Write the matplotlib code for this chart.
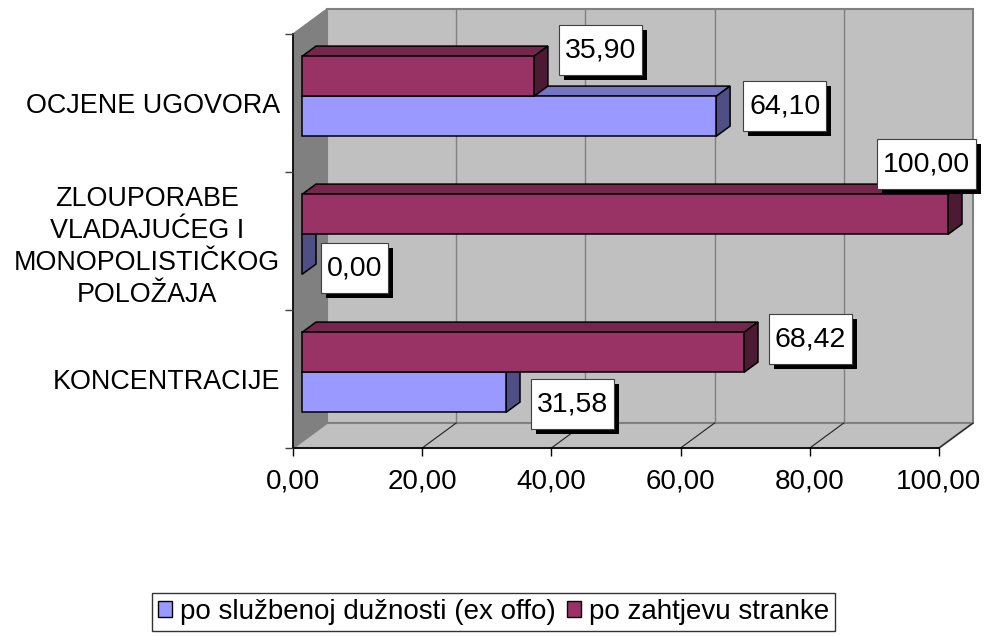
import numpy as np
import matplotlib
matplotlib.use('Agg')
import matplotlib.pyplot as plt
from matplotlib.patches import Polygon, Patch
from matplotlib.path import Path
import matplotlib.patheffects as pe

plt.rcParams['font.family'] = ['Liberation Sans', 'DejaVu Sans']

### DATA
categories = ['KONCENTRACIJE',
              'ZLOUPORABE\nVLADAJUĆEG I\nMONOPOLISTIČKOG\nPOLOŽAJA',
              'OCJENE UGOVORA']
ex_offo    = [31.58, 0.00, 64.10]
zahtjev    = [68.42, 100.00, 35.90]
series     = ['po službenoj dužnosti (ex offo)', 'po zahtjevu stranke']
x_ticks    = [0, 20, 40, 60, 80, 100]
x_labels   = ['0,00', '20,00', '40,00', '60,00', '80,00', '100,00']

### STYLE
front_col = ['#9999FF', '#993366']
top_col   = ['#7575C2', '#74264D']
side_col  = ['#4F4F85', '#4D1A33']
# label box left edge / centre offsets (px) from bar back-end centre
label_off = [[(11, 22), (5, 24), (13, 0)],      # ex offo
             [(11, -3), (-85, -40), (11, -16)]]  # zahtjev
FS = 20

fig = plt.figure(figsize=(9.87, 6.37), dpi=100)
W, H = 987, 637
ax = fig.add_axes([293 / W, 1 - 448 / H, 646 / W, 414 / H])
ax.set_xlim(0, 100)
ax.set_ylim(-0.5, 2.5)

# 3d depth in data units
px_x = 100 / 646.
px_y = 3 / 414.
DX = 34 * px_x
DY = 25 * px_y
f0, f1 = 9 / 34., 23 / 34.
bw = 40 / 138.

def poly(pts, fc, ec, lw, z):
    p = Polygon(pts, closed=True, facecolor=fc, edgecolor=ec, linewidth=lw,
                zorder=z, clip_on=False, joinstyle='miter')
    ax.add_patch(p)

# label box: more vertical padding than horizontal, like excel
def label_box(x0, y0, width, height, mutation_size):
    px, py = 6, 12
    x0, x1 = x0 - px, x0 + width + px
    y0, y1 = y0 - py, y0 + height + py
    return Path([(x0, y0), (x1, y0), (x1, y1), (x0, y1), (x0, y0)],
                closed=True)

# walls and floor
y0, y1 = -0.5, 2.5
poly([(DX, y0 + DY), (100 + DX, y0 + DY), (100 + DX, y1 + DY), (DX, y1 + DY)],
     '#C0C0C0', '#808080', 1.5, 0.5)
poly([(0, y0), (DX, y0 + DY), (DX, y1 + DY), (0, y1)],
     '#808080', '#808080', 1.0, 0.6)
poly([(0, y0), (100, y0), (100 + DX, y0 + DY), (DX, y0 + DY)],
     '#C0C0C0', '#808080', 1.5, 0.6)
for v in x_ticks[1:-1]:
    ax.plot([v + DX, v + DX], [y0 + DY, y1 + DY], color='#808080', lw=1,
            zorder=0.7, clip_on=False)
for v in x_ticks[1:]:
    ax.plot([v, v + DX], [y0, y0 + DY], color='#202020', lw=0.8,
            zorder=0.7, clip_on=False)

# bars
vals = [ex_offo, zahtjev]
for i, yc in enumerate(range(len(categories))):
    for s in range(2):
        v = vals[s][i]
        b0 = yc - bw if s == 0 else yc
        b1 = b0 + bw
        z = 2 + i * 0.1 + s * 0.05
        poly([(f0 * DX, b1 + f0 * DY), (v + f0 * DX, b1 + f0 * DY),
              (v + f1 * DX, b1 + f1 * DY), (f1 * DX, b1 + f1 * DY)],
             top_col[s], 'black', 1.1, z)
        poly([(v + f0 * DX, b0 + f0 * DY), (v + f1 * DX, b0 + f1 * DY),
              (v + f1 * DX, b1 + f1 * DY), (v + f0 * DX, b1 + f0 * DY)],
             side_col[s], 'black', 1.1, z)
        if v > 0:
            poly([(f0 * DX, b0 + f0 * DY), (v + f0 * DX, b0 + f0 * DY),
                  (v + f0 * DX, b1 + f0 * DY), (f0 * DX, b1 + f0 * DY)],
                 front_col[s], 'black', 1.1, z)
        # data label
        ox, oy = label_off[s][i]
        xt = v + f1 * DX
        yt = (b0 + b1) / 2 + f1 * DY
        t = ax.annotate(('%.2f' % v).replace('.', ','), xy=(xt, yt),
                        xytext=((ox + 6) * 0.72, -oy * 0.72),
                        textcoords='offset points', ha='left', va='center',
                        fontsize=FS + 0.5, zorder=10, annotation_clip=False,
                        bbox=dict(boxstyle=label_box, fc='white',
                                  ec='#404040', lw=0.8))
        t.get_bbox_patch().set_path_effects(
            [pe.SimplePatchShadow(offset=(3.6, -3.6), shadow_rgbFace='black',
                                  alpha=1.0), pe.Normal()])

# axes
for sp in ['top', 'right']:
    ax.spines[sp].set_visible(False)
ax.spines['left'].set_color('black')
ax.spines['bottom'].set_color('black')
ax.spines['left'].set_linewidth(1.2)
ax.spines['bottom'].set_linewidth(1.2)
ax.spines['left'].set_zorder(1)
ax.spines['bottom'].set_zorder(1)

ax.set_xticks(x_ticks)
ax.set_xticklabels(x_labels)
ax.tick_params(axis='x', length=6, width=1, pad=9, labelsize=FS)
ax.set_yticks(range(len(categories)))
ax.set_yticklabels(categories)
ax.set_yticks([-0.5, 0.5, 1.5, 2.5], minor=True)
ax.tick_params(axis='y', which='major', length=0, pad=9.5, labelsize=19.4)
ax.tick_params(axis='y', which='minor', length=6, width=1, color='#404040')
for lbl in ax.get_yticklabels():
    lbl.set_multialignment('center')
    lbl.set_linespacing(1.3)
ax.patch.set_visible(False)

handles = [Patch(facecolor=front_col[0], edgecolor='black', lw=1),
           Patch(facecolor=front_col[1], edgecolor='black', lw=1)]
leg = fig.legend(handles, series, loc='center',
                 bbox_to_anchor=(0.5, 1 - 612 / H), ncol=2, fontsize=FS,
                 frameon=True, fancybox=False, edgecolor='black',
                 handlelength=0.5, handleheight=0.5, handletextpad=0.3,
                 columnspacing=0.4, borderpad=0.2, borderaxespad=0)
leg.get_frame().set_linewidth(1.0)

fig.savefig('out.png', dpi=100)
